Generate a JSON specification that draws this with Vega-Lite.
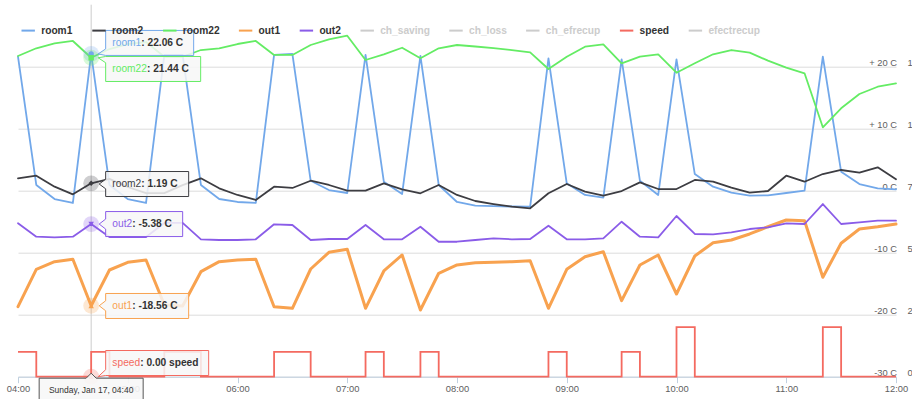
{
  "$schema": "https://vega.github.io/schema/vega-lite/v6.json",
  "width": 878,
  "height": 372,
  "autosize": {"type": "none"},
  "padding": {"left": 18, "top": 4.7, "right": 16, "bottom": 22.3},
  "background": "#ffffff",
  "config": {"view": {"stroke": null}, "font": "Liberation Sans"},
  "datasets": {
    "main": [
      {"t":"2016-01-17T04:00:00","room1":21.61,"room2":2.0,"room22":21.73,"out1":-18.71,"out2":-5.26,"speed":1},
      {"t":"2016-01-17T04:10:00","room1":0.92,"room2":2.42,"room22":22.97,"out1":-12.68,"out2":-7.42,"speed":1},
      {"t":"2016-01-17T04:20:00","room1":-1.34,"room2":0.65,"room22":23.77,"out1":-11.45,"out2":-7.52,"speed":0},
      {"t":"2016-01-17T04:30:00","room1":-1.98,"room2":-0.58,"room22":24.15,"out1":-11.06,"out2":-7.42,"speed":0},
      {"t":"2016-01-17T04:40:00","room1":22.06,"room2":1.19,"room22":21.44,"out1":-18.56,"out2":-5.38,"speed":0},
      {"t":"2016-01-17T04:50:00","room1":0.92,"room2":1.9,"room22":22.85,"out1":-12.79,"out2":-7.47,"speed":1},
      {"t":"2016-01-17T05:00:00","room1":-1.34,"room2":0.6,"room22":23.66,"out1":-11.55,"out2":-7.47,"speed":0},
      {"t":"2016-01-17T05:10:00","room1":-1.98,"room2":-0.4,"room22":23.98,"out1":-11.18,"out2":-7.47,"speed":0},
      {"t":"2016-01-17T05:20:00","room1":21.89,"room2":-0.4,"room22":21.6,"out1":-18.4,"out2":-5.2,"speed":0},
      {"t":"2016-01-17T05:30:00","room1":21.89,"room2":0.9,"room22":21.6,"out1":-18.6,"out2":-5.2,"speed":1},
      {"t":"2016-01-17T05:40:00","room1":0.92,"room2":2.0,"room22":22.69,"out1":-13.06,"out2":-7.84,"speed":1},
      {"t":"2016-01-17T05:50:00","room1":-1.34,"room2":0.39,"room22":22.97,"out1":-11.45,"out2":-7.95,"speed":0},
      {"t":"2016-01-17T06:00:00","room1":-1.82,"room2":-0.69,"room22":23.66,"out1":-11.18,"out2":-7.95,"speed":0},
      {"t":"2016-01-17T06:10:00","room1":-1.98,"room2":-1.5,"room22":24.15,"out1":-11.06,"out2":-7.84,"speed":0},
      {"t":"2016-01-17T06:20:00","room1":21.9,"room2":0.65,"room22":21.9,"out1":-18.71,"out2":-5.42,"speed":0},
      {"t":"2016-01-17T06:30:00","room1":22.05,"room2":0.44,"room22":21.9,"out1":-18.97,"out2":-5.53,"speed":1},
      {"t":"2016-01-17T06:40:00","room1":1.61,"room2":1.61,"room22":23.5,"out1":-12.63,"out2":-7.95,"speed":1},
      {"t":"2016-01-17T06:50:00","room1":0.11,"room2":0.92,"room22":24.42,"out1":-9.94,"out2":-7.79,"speed":0},
      {"t":"2016-01-17T07:00:00","room1":-0.37,"room2":0.0,"room22":25.0,"out1":-9.45,"out2":-7.79,"speed":0},
      {"t":"2016-01-17T07:10:00","room1":21.9,"room2":0.0,"room22":21.08,"out1":-18.97,"out2":-5.53,"speed":0},
      {"t":"2016-01-17T07:20:00","room1":1.45,"room2":1.19,"room22":22.0,"out1":-12.95,"out2":-7.84,"speed":1},
      {"t":"2016-01-17T07:30:00","room1":-0.53,"room2":0.23,"room22":23.06,"out1":-10.37,"out2":-7.84,"speed":0},
      {"t":"2016-01-17T07:40:00","room1":21.73,"room2":-0.42,"room22":21.35,"out1":-19.24,"out2":-5.81,"speed":0},
      {"t":"2016-01-17T07:50:00","room1":0.92,"room2":0.92,"room22":22.97,"out1":-13.32,"out2":-8.23,"speed":1},
      {"t":"2016-01-17T08:00:00","room1":-1.82,"room2":-0.69,"room22":23.5,"out1":-11.98,"out2":-8.23,"speed":0},
      {"t":"2016-01-17T08:10:00","room1":-2.42,"room2":-1.66,"room22":23.26,"out1":-11.61,"out2":-7.95,"speed":0},
      {"t":"2016-01-17T08:20:00","room1":-2.5,"room2":-2.15,"room22":23.0,"out1":-11.55,"out2":-7.68,"speed":0},
      {"t":"2016-01-17T08:30:00","room1":-2.55,"room2":-2.58,"room22":22.69,"out1":-11.45,"out2":-7.84,"speed":0},
      {"t":"2016-01-17T08:40:00","room1":-2.58,"room2":-2.84,"room22":22.32,"out1":-11.29,"out2":-7.79,"speed":0},
      {"t":"2016-01-17T08:50:00","room1":21.35,"room2":-0.42,"room22":19.63,"out1":-18.97,"out2":-5.65,"speed":0},
      {"t":"2016-01-17T09:00:00","room1":1.19,"room2":1.08,"room22":21.61,"out1":-12.68,"out2":-7.84,"speed":1},
      {"t":"2016-01-17T09:10:00","room1":-0.69,"room2":-0.16,"room22":23.23,"out1":-10.65,"out2":-7.84,"speed":0},
      {"t":"2016-01-17T09:20:00","room1":-1.13,"room2":-0.81,"room22":23.61,"out1":-9.84,"out2":-7.68,"speed":0},
      {"t":"2016-01-17T09:30:00","room1":21.19,"room2":-0.05,"room22":20.55,"out1":-17.74,"out2":-5.0,"speed":0},
      {"t":"2016-01-17T09:40:00","room1":1.61,"room2":1.35,"room22":21.61,"out1":-11.98,"out2":-7.42,"speed":1},
      {"t":"2016-01-17T09:50:00","room1":-0.69,"room2":0.27,"room22":22.0,"out1":-10.37,"out2":-7.52,"speed":0},
      {"t":"2016-01-17T10:00:00","room1":21.19,"room2":0.27,"room22":19.03,"out1":-16.66,"out2":-4.08,"speed":0},
      {"t":"2016-01-17T10:10:00","room1":2.69,"room2":1.73,"room22":20.55,"out1":-10.53,"out2":-6.98,"speed":2},
      {"t":"2016-01-17T10:20:00","room1":0.65,"room2":1.45,"room22":22.0,"out1":-8.39,"out2":-7.03,"speed":0},
      {"t":"2016-01-17T10:30:00","room1":-0.32,"room2":0.48,"room22":22.69,"out1":-7.95,"out2":-6.71,"speed":0},
      {"t":"2016-01-17T10:40:00","room1":-0.81,"room2":-0.32,"room22":22.26,"out1":-6.98,"out2":-6.18,"speed":0},
      {"t":"2016-01-17T10:50:00","room1":-0.75,"room2":-0.05,"room22":20.97,"out1":-5.81,"out2":-5.9,"speed":0},
      {"t":"2016-01-17T11:00:00","room1":-0.37,"room2":2.42,"room22":19.84,"out1":-4.73,"out2":-5.26,"speed":0},
      {"t":"2016-01-17T11:10:00","room1":0.0,"room2":1.45,"room22":18.94,"out1":-4.84,"out2":-5.37,"speed":0},
      {"t":"2016-01-17T11:20:00","room1":21.61,"room2":2.69,"room22":10.23,"out1":-13.97,"out2":-2.15,"speed":0},
      {"t":"2016-01-17T11:30:00","room1":3.06,"room2":3.34,"room22":13.29,"out1":-8.48,"out2":-5.37,"speed":2},
      {"t":"2016-01-17T11:40:00","room1":1.08,"room2":2.9,"room22":15.6,"out1":-6.18,"out2":-5.1,"speed":0},
      {"t":"2016-01-17T11:50:00","room1":0.39,"room2":3.77,"room22":16.77,"out1":-5.81,"out2":-4.84,"speed":0},
      {"t":"2016-01-17T12:00:00","room1":0.23,"room2":1.84,"room22":17.32,"out1":-5.37,"out2":-4.84,"speed":0}
    ],
    "tipT": [
      {"t":"2016-01-17T04:40:00","series":"room1","val":22.06},
      {"t":"2016-01-17T04:40:00","series":"room22","val":21.44},
      {"t":"2016-01-17T04:40:00","series":"room2","val":1.19},
      {"t":"2016-01-17T04:40:00","series":"out2","val":-5.38},
      {"t":"2016-01-17T04:40:00","series":"out1","val":-18.56}
    ],
    "tipS": [
      {"t":"2016-01-17T04:40:00","series":"speed","val":0}
    ]
  },
  "encoding": {
    "x": {
      "field": "t", "type": "temporal", "title": null,
      "scale": {"domain": [{"year":2016,"month":1,"date":17,"hours":4},{"year":2016,"month":1,"date":17,"hours":12}]},
      "axis": {
        "values": [
          {"year":2016,"month":1,"date":17,"hours":4},{"year":2016,"month":1,"date":17,"hours":5},
          {"year":2016,"month":1,"date":17,"hours":6},{"year":2016,"month":1,"date":17,"hours":7},
          {"year":2016,"month":1,"date":17,"hours":8},{"year":2016,"month":1,"date":17,"hours":9},
          {"year":2016,"month":1,"date":17,"hours":10},{"year":2016,"month":1,"date":17,"hours":11},
          {"year":2016,"month":1,"date":17,"hours":12}
        ],
        "format": "%H:%M", "labelFlush": false, "labelOverlap": false, "grid": false,
        "domainColor": "#c0d0e0", "tickColor": "#c0d0e0", "tickSize": 6, "labelPadding": 2,
        "labelFont": "Liberation Sans", "labelFontSize": 9.35, "labelColor": "#606060"
      }
    }
  },
  "layer": [
    {
      "data": {"values": [{"t": "2016-01-17T04:40:00"}]},
      "mark": {"type": "rule", "color": "#cccccc", "strokeWidth": 1},
      "encoding": {}
    },
    {
      "encoding": {
        "y": {
          "field": "val", "type": "quantitative", "title": null,
          "scale": {"domain": [-30, 30], "nice": false, "zero": false},
          "axis": {
            "orient": "left", "values": [-30, -20, -10, 0, 10, 20],
            "labelExpr": "datum.value > 0 ? '+ ' + datum.value + ' C' : datum.value + ' C'",
            "domain": false, "ticks": false, "tickSize": 0, "grid": true, "gridColor": "#dcdcdc", "gridWidth": 1,
            "labelAlign": "right", "labelBaseline": "alphabetic", "labelOffset": -1.5, "labelPadding": -878.5,
            "labelOverlap": false, "labelFont": "Liberation Sans", "labelFontSize": 9.35, "labelColor": "#606060", "title": null
          }
        }
      },
      "layer": [
        {
          "data": {"name": "main"},
          "transform": [{"fold": ["room1", "room2", "room22", "out1", "out2"], "as": ["series", "val"]}],
          "mark": {"type": "line", "strokeJoin": "round", "strokeCap": "round"},
          "encoding": {
            "color": {
              "field": "series", "type": "nominal",
              "scale": {
                "domain": ["room1", "room2", "room22", "out1", "out2", "ch_saving", "ch_loss", "ch_efrecup", "speed", "efectrecup"],
                "range": ["#72a8ea", "#3d3d42", "#64ec64", "#f8a24f", "#8a5ce8", "#cccccc", "#cccccc", "#cccccc", "#f46a60", "#cccccc"]
              },
              "legend": {
                "orient": "none", "legendX": 2.2, "legendY": 17.5, "direction": "horizontal", "title": null,
                "symbolType": "stroke", "symbolSize": 180, "symbolStrokeWidth": 2,
                "labelFont": "Liberation Sans", "labelFontSize": 10.2, "labelFontWeight": "bold", "labelColor": "#333333",
                "columnPadding": 14.8, "labelOffset": 5, "padding": 0, "labelLimit": 300,
                "encode": {"labels": {"update": {"fill": {"signal": "indexof(['ch_saving','ch_loss','ch_efrecup','efectrecup'], datum.value) >= 0 ? '#cccccc' : '#333333'"}}}}
              }
            },
            "strokeWidth": {"condition": {"test": "datum.series === 'out1'", "value": 3}, "value": 1.8}
          }
        },
        {
          "data": {"name": "tipT"},
          "mark": {"type": "point", "filled": true, "size": 250, "opacity": 0.25},
          "encoding": {"color": {"field": "series", "type": "nominal", "legend": null}}
        },
        {
          "data": {"name": "tipT"},
          "mark": {"type": "point", "filled": true, "size": 30, "opacity": 1},
          "encoding": {
            "color": {"field": "series", "type": "nominal", "legend": null},
            "shape": {"field": "series", "type": "nominal", "legend": null,
              "scale": {"domain": ["room1", "room2", "room22", "out1", "out2"], "range": ["circle", "diamond", "square", "triangle-up", "triangle-down"]}}
          }
        },
        {
          "data": {"name": "tipT"},
          "mark": {"type": "point", "size": 4, "fill": "#f7f7f7", "fillOpacity": 0.85, "strokeWidth": 1, "opacity": 1},
          "encoding": {
            "stroke": {"field": "series", "type": "nominal", "legend": null,
              "scale": {"domain": ["room1", "room2", "room22", "out1", "out2"], "range": ["#72a8ea", "#3d3d42", "#64ec64", "#f8a24f", "#8a5ce8"]}},
            "shape": {"field": "series", "type": "nominal", "legend": null,
              "scale": {"domain": ["room1", "room2", "room22", "out1", "out2"], "range": [
                "M14.5,-23.5L102.5,-23.5L102.5,1.5L14.5,1.5L7,0L14.5,-5Z",
                "M14.5,-11.8L97.5,-11.8L97.5,13.2L14.5,13.2L14.5,5.5L8,0.7L14.5,-4.1Z",
                "M14.5,-1.3L7,0L14.5,5L14.5,23.7L109.5,23.7L109.5,-1.3Z",
                "M14.5,-12.3L97.5,-12.3L97.5,12.7L14.5,12.7L14.5,5L8,0L14.5,-5Z",
                "M14.5,-12.5L91.5,-12.5L91.5,12.5L14.5,12.5L14.5,5L8,0L14.5,-5Z"
              ]}}
          }
        },
        {
          "data": {"name": "tipT"},
          "mark": {"type": "text", "align": "left", "baseline": "middle", "font": "Liberation Sans", "fontSize": 10.2, "dx": 21.2,
            "dy": {"expr": "datum.series === 'room1' ? -11 : datum.series === 'room22' ? 11.2 : datum.series === 'room2' ? 0.7 : 0"}},
          "encoding": {
            "text": {"field": "series"},
            "color": {"field": "series", "type": "nominal", "legend": null}
          }
        },
        {
          "data": {"name": "tipT"},
          "transform": [{"calculate": "': ' + replace(format(datum.val, '.2f'), '\u2212', '-') + ' C'", "as": "lab"}],
          "mark": {"type": "text", "align": "left", "baseline": "middle", "font": "Liberation Sans", "fontSize": 10.2, "fontWeight": "bold", "color": "#333333",
            "dx": {"expr": "datum.series === 'room22' ? 55.8 : (datum.series === 'out1' || datum.series === 'out2') ? 41.1 : 50.1"},
            "dy": {"expr": "datum.series === 'room1' ? -11 : datum.series === 'room22' ? 11.2 : datum.series === 'room2' ? 0.7 : 0"}},
          "encoding": {"text": {"field": "lab"}}
        }
      ],
      "resolve": {"scale": {"shape": "independent"}}
    },
    {
      "encoding": {
        "y": {
          "field": "val", "type": "quantitative", "title": null,
          "scale": {"domain": [0, 15], "nice": false, "zero": true},
          "axis": {
            "orient": "right", "values": [0, 2.5, 5, 7.5, 10, 12.5], "labelExpr": "datum.value + ''",
            "domain": false, "ticks": false, "tickSize": 0, "grid": false,
            "labelAlign": "left", "labelBaseline": "alphabetic", "labelOffset": -1.5, "labelPadding": 11,
            "labelOverlap": false, "labelFont": "Liberation Sans", "labelFontSize": 9.35, "labelColor": "#606060", "title": null
          }
        }
      },
      "layer": [
        {
          "data": {"name": "main"},
          "transform": [{"fold": ["speed"], "as": ["series", "val"]}],
          "mark": {"type": "line", "interpolate": "step-before", "strokeWidth": 1.8, "strokeJoin": "miter"},
          "encoding": {"color": {"field": "series", "type": "nominal", "legend": null}}
        },
        {
          "data": {"name": "tipS"},
          "mark": {"type": "point", "filled": true, "size": 250, "opacity": 0.25, "color": "#f46a60"},
          "encoding": {}
        },
        {
          "data": {"name": "tipS"},
          "mark": {"type": "point", "filled": true, "size": 30, "opacity": 1, "shape": "triangle-up", "color": "#f46a60"},
          "encoding": {}
        },
        {
          "data": {"name": "tipS"},
          "mark": {"type": "point", "size": 4, "fill": "#f7f7f7", "fillOpacity": 0.85, "stroke": "#f46a60", "strokeWidth": 1, "opacity": 1,
            "shape": "M14.5,-26.2L117.5,-26.2L117.5,-1.2L14.5,-1.2L7,0L14.5,-7Z"},
          "encoding": {}
        },
        {
          "data": {"name": "tipS"},
          "mark": {"type": "text", "align": "left", "baseline": "middle", "font": "Liberation Sans", "fontSize": 10.2, "dx": 21.2, "dy": -13.7, "color": "#f46a60"},
          "encoding": {"text": {"field": "series"}}
        },
        {
          "data": {"name": "tipS"},
          "transform": [{"calculate": "': ' + format(datum.val, '.2f') + ' speed'", "as": "lab"}],
          "mark": {"type": "text", "align": "left", "baseline": "middle", "font": "Liberation Sans", "fontSize": 10.2, "fontWeight": "bold", "dx": 49, "dy": -13.7, "color": "#333333"},
          "encoding": {"text": {"field": "lab"}}
        },
        {
          "data": {"name": "tipS"},
          "mark": {"type": "point", "size": 4, "fill": "#f7f7f7", "fillOpacity": 0.9, "stroke": "#555555", "strokeWidth": 1, "opacity": 1,
            "shape": "M-52,1.5L-5,1.5L0,-3.5L5,1.5L52,1.5L52,30L-52,30Z"},
          "encoding": {}
        },
        {
          "data": {"name": "tipS"},
          "mark": {"type": "text", "align": "center", "baseline": "middle", "font": "Liberation Sans", "fontSize": 8.5, "dy": 13.3, "color": "#333333"},
          "encoding": {"text": {"field": "t", "type": "temporal", "format": "%A, %b %d, %H:%M"}}
        }
      ]
    }
  ],
  "resolve": {"scale": {"y": "independent"}}
}
